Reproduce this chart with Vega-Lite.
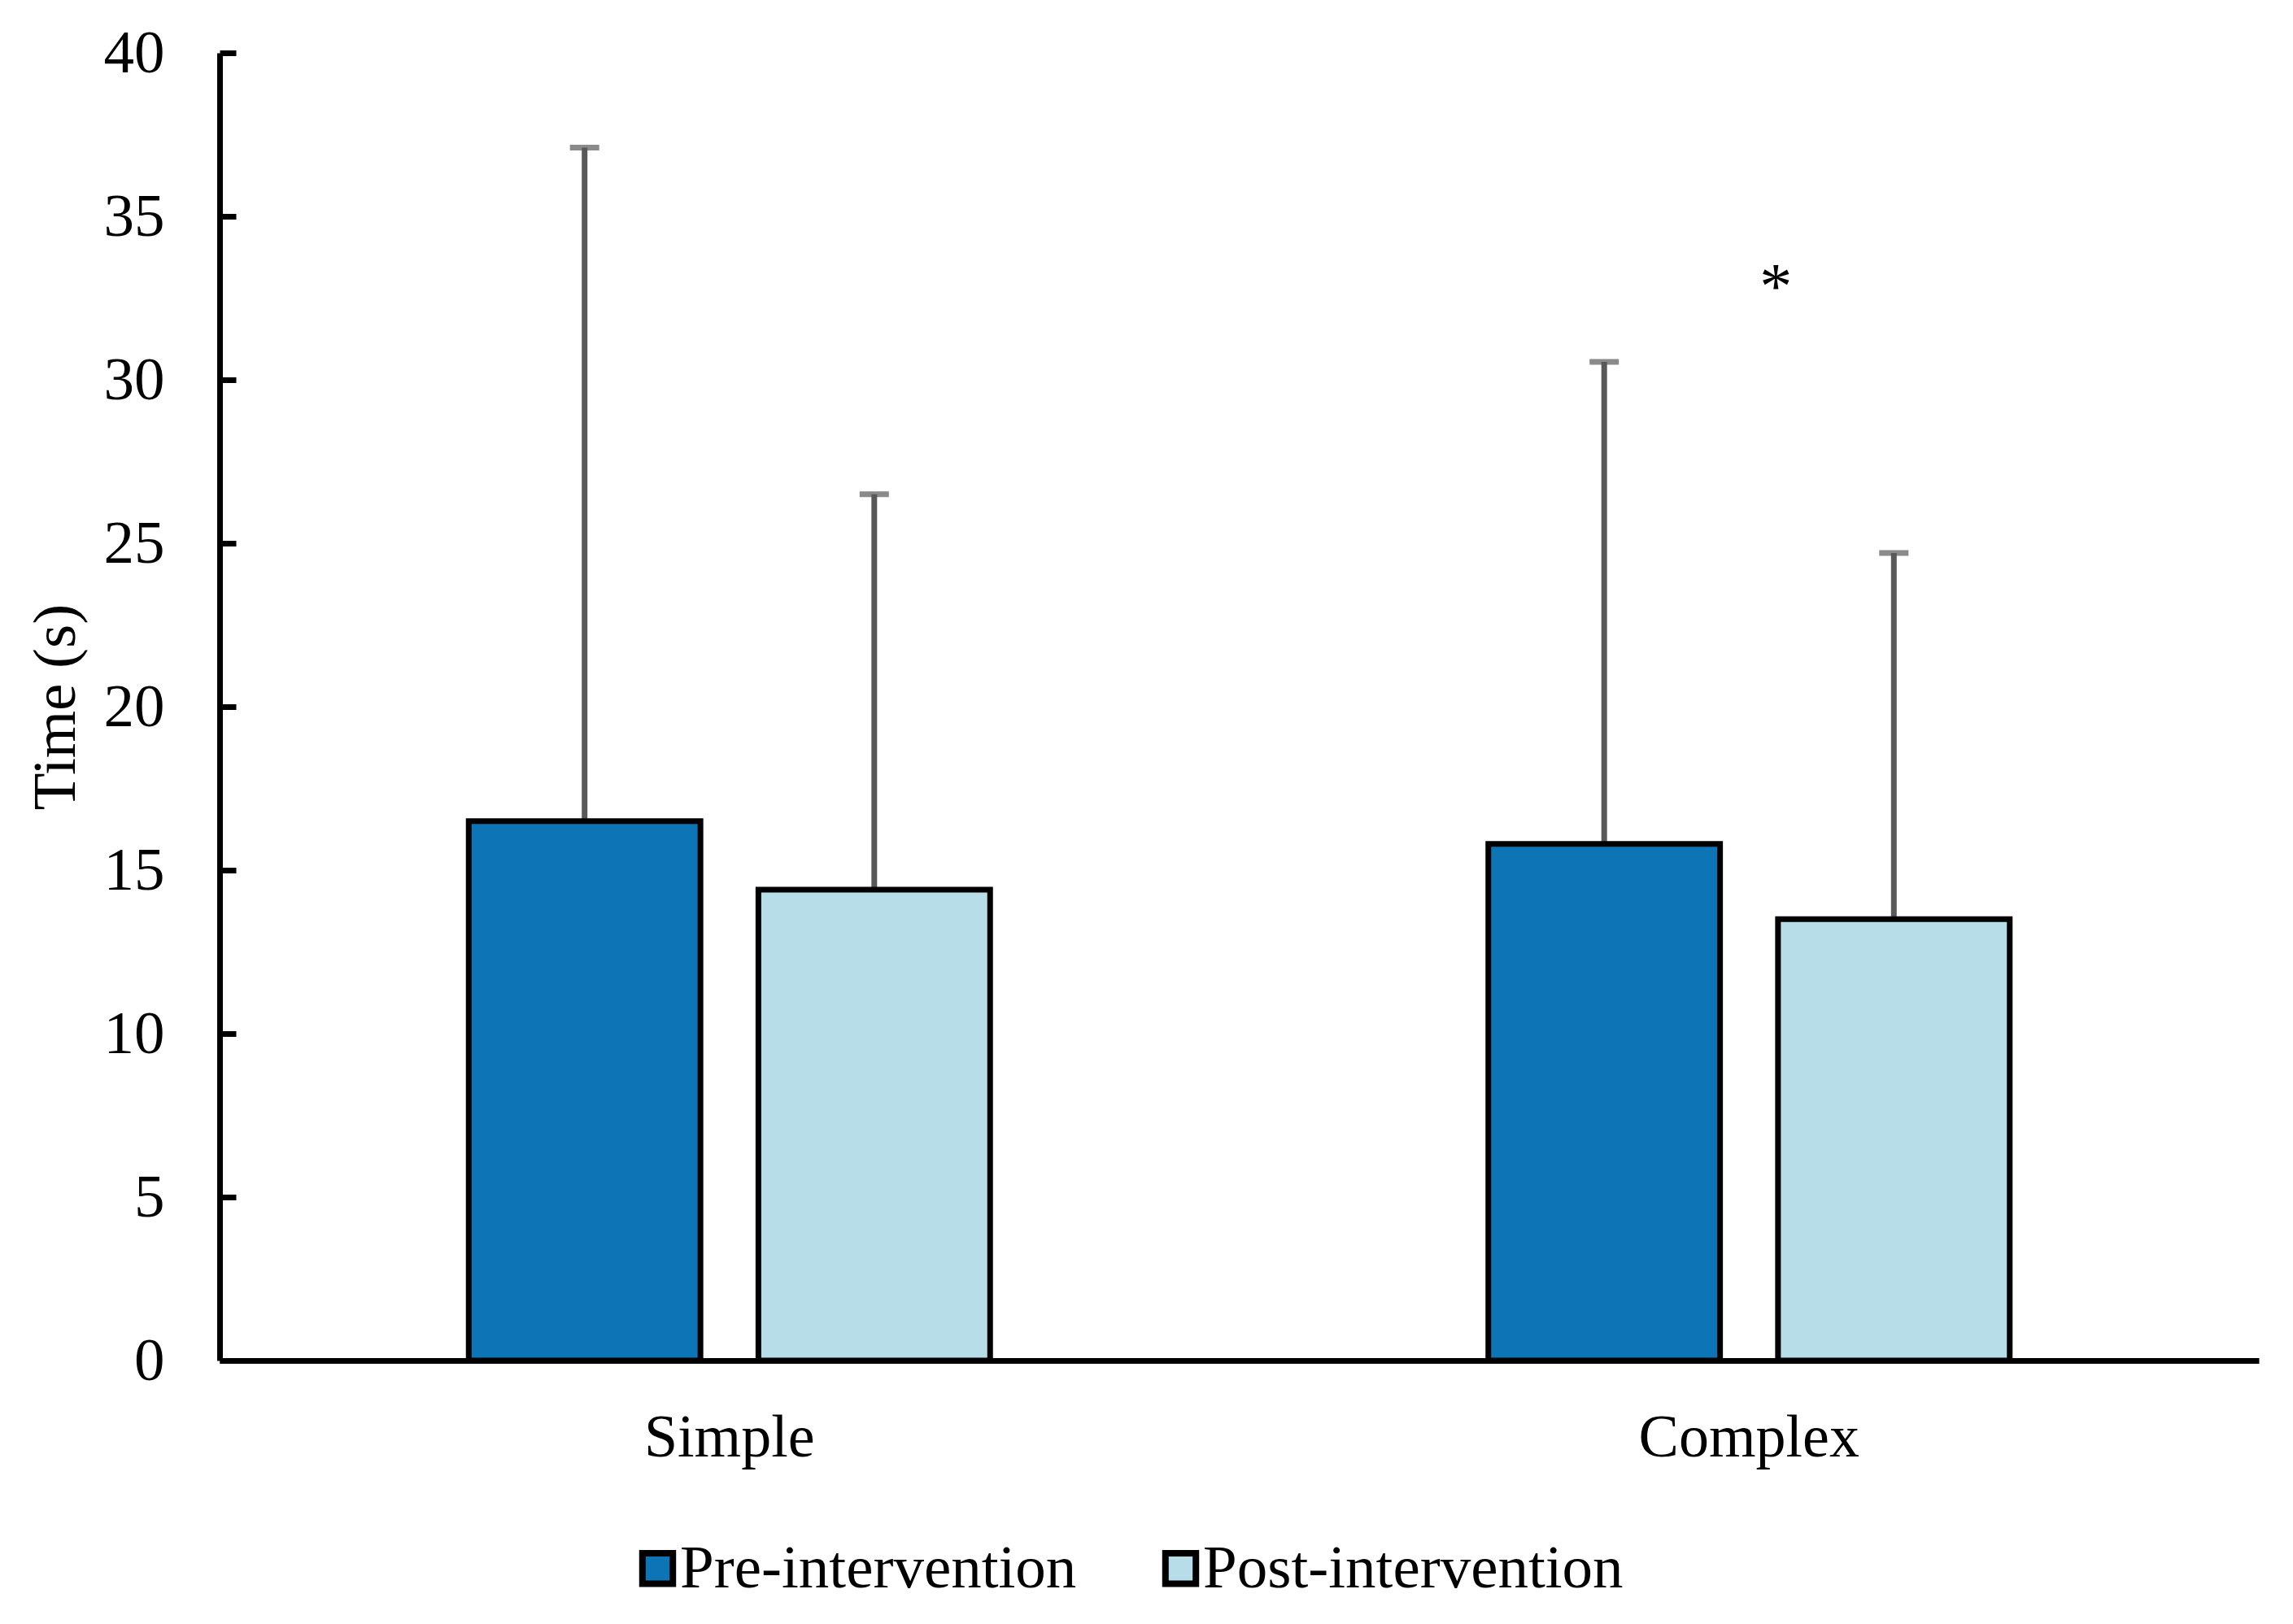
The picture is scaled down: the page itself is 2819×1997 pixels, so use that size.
{
  "$schema": "https://vega.github.io/schema/vega-lite/v6.json",
  "width": 2507,
  "height": 1608,
  "autosize": "none",
  "padding": {"left": 270, "top": 65, "right": 42, "bottom": 324},
  "background": "white",
  "config": {"view": {"stroke": null}, "font": "Liberation Serif"},
  "datasets": {
    "bars": [
      {"task": "Simple", "phase": "Pre-intervention", "mean": 16.5, "upper": 37.1},
      {"task": "Simple", "phase": "Post-intervention", "mean": 14.4, "upper": 26.5},
      {"task": "Complex", "phase": "Pre-intervention", "mean": 15.8, "upper": 30.55},
      {"task": "Complex", "phase": "Post-intervention", "mean": 13.5, "upper": 24.7}
    ],
    "marks": [
      {"task": "Complex", "label": "*", "pos": 32.2}
    ]
  },
  "layer": [
    {
      "data": {"name": "bars"},
      "mark": {"type": "rule", "color": "#595959", "strokeWidth": 7},
      "encoding": {
        "x": {"field": "task", "type": "nominal", "sort": ["Simple", "Complex"], "scale": {"paddingInner": 0, "paddingOuter": 0}},
        "xOffset": {"field": "phase", "type": "nominal", "sort": ["Pre-intervention", "Post-intervention"], "scale": {"paddingInner": 0.2, "paddingOuter": 0.86}},
        "y": {"field": "mean", "type": "quantitative"},
        "y2": {"field": "upper"}
      }
    },
    {
      "data": {"name": "bars"},
      "mark": {"type": "tick", "color": "#595959", "thickness": 7, "size": 36, "orient": "horizontal"},
      "encoding": {
        "x": {"field": "task", "type": "nominal", "sort": ["Simple", "Complex"]},
        "xOffset": {"field": "phase", "type": "nominal", "sort": ["Pre-intervention", "Post-intervention"]},
        "y": {"field": "upper", "type": "quantitative"}
      }
    },
    {
      "data": {"name": "bars"},
      "mark": {"type": "bar", "stroke": "black", "strokeWidth": 7},
      "encoding": {
        "x": {
          "field": "task", "type": "nominal", "sort": ["Simple", "Complex"],
          "axis": {"title": null, "labelAngle": 0, "labelAlign": "center", "ticks": false, "domainColor": "black", "domainWidth": 7, "labelFont": "Liberation Serif", "labelFontSize": 74, "labelColor": "black", "labelPadding": 95, "labelLimit": 1000}
        },
        "xOffset": {"field": "phase", "type": "nominal", "sort": ["Pre-intervention", "Post-intervention"]},
        "y": {
          "field": "mean", "type": "quantitative",
          "scale": {"domain": [0, 40]},
          "axis": {"title": "Time (s)", "values": [0, 5, 10, 15, 20, 25, 30, 35, 40], "grid": false, "domainColor": "black", "domainWidth": 7, "tickColor": "black", "tickWidth": 7, "tickSize": -20, "labelFont": "Liberation Serif", "labelFontSize": 75, "labelColor": "black", "labelPadding": 88, "titleFont": "Liberation Serif", "titleFontSize": 75, "titleFontWeight": "normal", "titleColor": "black", "titlePadding": 20}
        },
        "fill": {
          "field": "phase", "type": "nominal", "sort": ["Pre-intervention", "Post-intervention"],
          "scale": {"domain": ["Pre-intervention", "Post-intervention"], "range": ["#0D75B5", "#B7DDE8"]},
          "legend": {"title": null, "orient": "none", "legendX": 501, "legendY": 1826, "direction": "horizontal", "symbolType": "square", "symbolSize": 1400, "symbolStrokeColor": "black", "symbolStrokeWidth": 8, "symbolOpacity": 1, "labelFont": "Liberation Serif", "labelFontSize": 75, "labelColor": "black", "labelOffset": -10, "columnPadding": 90, "labelLimit": 1000}
        }
      }
    },
    {
      "data": {"name": "marks"},
      "mark": {"type": "text", "font": "Liberation Serif", "fontSize": 80, "color": "black", "baseline": "alphabetic", "dx": 33},
      "encoding": {
        "x": {"field": "task", "type": "nominal", "sort": ["Simple", "Complex"]},
        "y": {"field": "pos", "type": "quantitative"},
        "text": {"field": "label"}
      }
    }
  ]
}
